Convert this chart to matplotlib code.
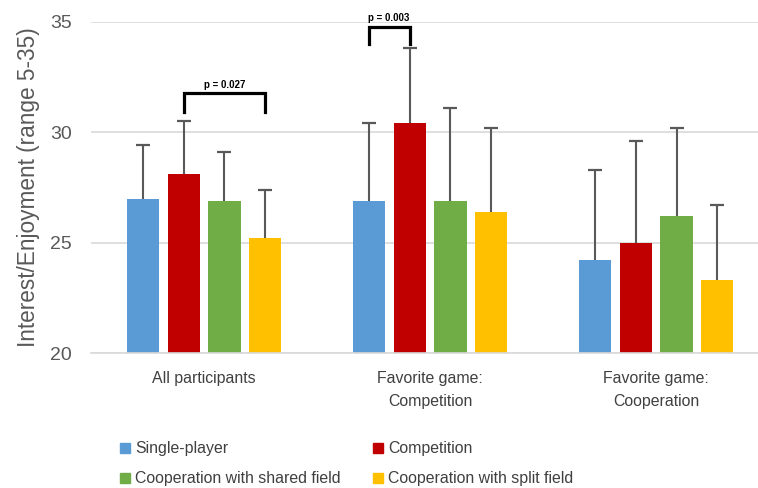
import numpy as np
import matplotlib.pyplot as plt
from matplotlib.patches import Patch

plt.rcParams['font.family'] = ['Liberation Sans', 'DejaVu Sans']

groups = ['All participants', 'Favorite game:\nCompetition', 'Favorite game:\nCooperation']
conditions = ['Single-player', 'Competition', 'Cooperation with shared field', 'Cooperation with split field']
colors = ['#5B9BD5', '#C00000', '#70AD47', '#FFC000']

# mean interest/enjoyment per condition, one list per group order
single = [27.0, 26.9, 24.2]
competition = [28.1, 30.4, 25.0]
coop_shared = [26.9, 26.9, 26.2]
coop_split = [25.2, 26.4, 23.3]

# standard deviations (upper error bars only)
single_sd = [2.4, 3.5, 4.1]
competition_sd = [2.4, 3.4, 4.6]
coop_shared_sd = [2.2, 4.2, 4.0]
coop_split_sd = [2.2, 3.8, 3.4]

means = [single, competition, coop_shared, coop_split]
sds = [single_sd, competition_sd, coop_shared_sd, coop_split_sd]

fig = plt.figure(figsize=(7.58, 4.88), dpi=100)
ax = fig.add_axes([91 / 758, 1 - 353.3 / 488, 1 - 91 / 758, (353.3 - 21.7) / 488])

x = np.arange(len(groups))
step = 0.181
width = 0.142
offsets = (np.arange(4) - 1.5) * step

for i in range(4):
    xs = x + offsets[i]
    tops = np.array(means[i]) + np.array(sds[i])
    ax.bar(xs, means[i], width, color=colors[i], zorder=2)
    # one-sided error bar: stem from bar top plus a cap at the end
    ax.vlines(xs, means[i], tops, color='#595959', linewidth=1.5, zorder=3)
    ax.plot(xs, tops, linestyle='none', marker='_', markersize=10,
            markeredgewidth=1.6, color='#595959', zorder=3)

ax.set_ylim(20, 35)
ax.set_xlim(-0.5, 2.451)
ax.set_yticks([20, 25, 30, 35])
ax.yaxis.grid(True, color='#D9D9D9', linewidth=1.2, zorder=0)
ax.set_axisbelow(True)
for s in ['top', 'right', 'left']:
    ax.spines[s].set_visible(False)
ax.spines['bottom'].set_color('#D9D9D9')
ax.spines['bottom'].set_linewidth(1.2)
ax.tick_params(axis='y', length=0, pad=14, labelsize=14, labelcolor='#595959')
ax.tick_params(axis='x', length=0, pad=13, labelsize=11.4, labelcolor='#404040')
ax.set_xticks(x)
ax.set_xticklabels(groups, linespacing=1.6)
ax.set_ylabel('Interest/Enjoyment (range 5-35)', fontsize=16.3, color='#595959', labelpad=7)


def bracket(x1, x2, top, bottom, label):
    """Draw a significance bracket between two bars with its p value above."""
    ax.plot([x1, x1, x2, x2], [bottom, top, top, bottom], color='black',
            linewidth=2.3, clip_on=False, zorder=4, solid_joinstyle='miter')
    ax.text((x1 + x2) / 2, top + 0.15, label, ha='center', va='bottom',
            fontsize=7, fontweight='bold', clip_on=False)


bracket(x[0] + offsets[1], x[0] + offsets[3], 31.76, 30.9, 'p = 0.027')
bracket(x[1] + offsets[0], x[1] + offsets[1], 34.77, 34.0, 'p = 0.003')

order = [0, 2, 1, 3]
handles = [Patch(color=colors[i]) for i in order]
labels = [conditions[i] for i in order]
fig.legend(handles, labels, ncol=2, loc='upper left', bbox_to_anchor=(0.148, 0.112),
           frameon=False, fontsize=11.4, handlelength=0.6, handleheight=0.6,
           handletextpad=0.35, columnspacing=2.05, labelspacing=0.95, borderpad=0,
           labelcolor='#404040')

fig.savefig('out.png', dpi=100)
